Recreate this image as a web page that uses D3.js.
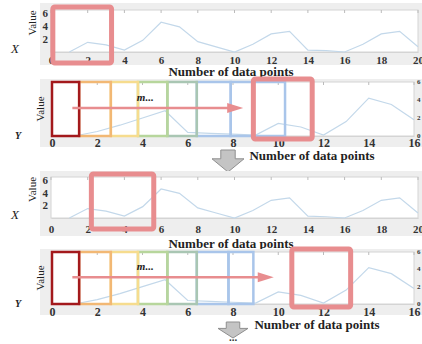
<!DOCTYPE html>
<html><head><meta charset="utf-8">
<script src="https://cdn.jsdelivr.net/npm/d3@7"></script>
<style>
html,body{margin:0;padding:0;background:#fff;}
svg{display:block;}
.tick text{font-family:"Liberation Serif","DejaVu Serif",serif;font-weight:bold;fill:#333;}
</style></head>
<body>
<svg id="c" width="422" height="344"></svg>
<script>
// ---- data ----
const xSteps = [1,2,3,4,5,6,7,8,9,10,11,12,13,14,15,16,17,18,19,20];
const xValues = [0,1.5,1.1,0.3,1.8,4.6,3.9,1.6,0.8,0,1.2,2.8,3.2,0.3,0.2,0,1.2,2.8,3.2,0.8];
const ySteps = [1,2,3,4,5,6,7,8,9,10,11,12,13,14,15,16];
const yValues = [0,0.5,1.2,2.0,2.8,0.4,0.3,0.2,0.1,1.4,1.0,0.1,1.6,4.2,3.5,1.8];
const xTicksX = [0,2,4,6,8,10,12,14,16,18,20];
const xTicksY = [0,2,4,6,8,10,12,14,16];
const valueTicks = [2,4,6];
const valueTicksRight = [0,2,4,6];
const windowEdgesA = [0,1.2,2.6,3.8,5.1,6.4,7.9,10.3];
const windowEdgesB = [0,1.2,2.6,3.8,5.1,6.4,7.8,8.9];
const windowColors = ["#a3191c","#f2b874","#f6dc8e","#b7d69c","#a9c6b3","#a9c5ea","#a9c5ea"];
const redWindowX1 = [0.1,3.3];
const redWindowX2 = [2.2,5.6];
const redWindowY1 = [8.9,11.5];
const redWindowY2 = [10.6,13.2];
const arrowY1 = [0.9,8.45,3.1];
const arrowY2 = [0.9,9.8,3.1];
const xLabel = "Number of data points";

const svg = d3.select("#c");
const serif = '"Liberation Serif","DejaVu Serif",serif';
const lineCol = "#c3d8ea";
const redCol = "#e88d8f";
const fmt = d3.format("d");

function panelX(top, bottom, bgTop, bgBot, redWin, name, tickPad, titleBase){
  const x = d3.scaleLinear().domain([0,20]).range([51,418]);
  const y = d3.scaleLinear().domain([0,6.5]).range([bottom, top]);
  const g = svg.append("g");
  g.append("rect").attr("x",40).attr("y",bgTop).attr("width",382).attr("height",bgBot-bgTop).attr("fill","#eeeeee");
  g.append("rect").attr("x",x(0)).attr("y",top).attr("width",x(20)-x(0)).attr("height",bottom-top)
    .attr("fill","#fff").attr("stroke","#d4d4d4").attr("stroke-width",1);
  g.selectAll(".tt").data(xTicksX).join("line").attr("x1",d=>x(d)).attr("x2",d=>x(d))
    .attr("y1",top).attr("y2",top+3).attr("stroke","#bbb");
  const ax = g.append("g").attr("transform",`translate(0,${bottom})`)
    .call(d3.axisBottom(x).tickValues(xTicksX).tickFormat(fmt).tickSize(0).tickPadding(tickPad));
  ax.select(".domain").attr("stroke","#d4d4d4");
  ax.selectAll("text").attr("font-size",11);
  const ay = g.append("g").attr("transform",`translate(${x(0)-1},0)`)
    .call(d3.axisLeft(y).tickValues(valueTicks).tickFormat(fmt).tickSize(0).tickPadding(2));
  ay.select(".domain").remove();
  ay.selectAll("text").attr("font-size",11);
  g.append("path").datum(xSteps.map((s,i)=>[s,xValues[i]]))
    .attr("d",d3.line().x(d=>x(d[0])).y(d=>y(d[1])))
    .attr("fill","none").attr("stroke",lineCol).attr("stroke-width",1.2);
  g.append("text").attr("transform",`translate(36,${(top+bottom)/2-8}) rotate(-90)`)
    .attr("text-anchor","middle").attr("font-family",serif).attr("font-size",11).attr("fill","#222").text("Value");
  g.append("text").attr("x",15).attr("y",bottom+1).attr("text-anchor","middle").attr("font-family",serif)
    .attr("font-style","italic").attr("font-size",13).attr("fill","#222").text(name);
  g.append("text").attr("x",231).attr("y",titleBase).attr("text-anchor","middle").attr("font-family",serif)
    .attr("font-weight","bold").attr("font-size",13).attr("fill","#222").text(xLabel);
  g.append("rect").attr("x",x(redWin[0])).attr("y",top-3).attr("width",x(redWin[1])-x(redWin[0]))
    .attr("height",bottom-top+14).attr("rx",2).attr("fill","none").attr("stroke",redCol).attr("stroke-width",5);
}

function panelY(top, bottom, bgTop, bgBot, edges, redWin, arrow, labelY, grayArrow, dots, tickPad){
  const x = d3.scaleLinear().domain([0,16]).range([52,414]);
  const y = d3.scaleLinear().domain([0,6]).range([bottom, top]);
  const g = svg.append("g");
  g.append("rect").attr("x",40).attr("y",bgTop).attr("width",382).attr("height",bgBot-bgTop).attr("fill","#eeeeee");
  g.append("rect").attr("x",x(0)).attr("y",top).attr("width",x(16)-x(0)).attr("height",bottom-top)
    .attr("fill","#fff").attr("stroke","#d4d4d4").attr("stroke-width",1);
  g.selectAll(".tt").data(xTicksY).join("line").attr("x1",d=>x(d)).attr("x2",d=>x(d))
    .attr("y1",top).attr("y2",top+3).attr("stroke","#bbb");
  const ax = g.append("g").attr("transform",`translate(0,${bottom})`)
    .call(d3.axisBottom(x).tickValues(xTicksY).tickFormat(fmt).tickSize(0).tickPadding(tickPad));
  ax.select(".domain").attr("stroke","#d4d4d4");
  ax.selectAll("text").attr("font-size",12);
  const ay = g.append("g").attr("transform",`translate(${x(16)},0)`)
    .call(d3.axisRight(y).tickValues(valueTicksRight).tickFormat(fmt).tickSize(0).tickPadding(3));
  ay.select(".domain").remove();
  ay.selectAll("text").attr("font-size",7).attr("dy","0.2em");
  g.append("path").datum(ySteps.map((s,i)=>[s,yValues[i]]))
    .attr("d",d3.line().x(d=>x(d[0])).y(d=>y(d[1])))
    .attr("fill","none").attr("stroke",lineCol).attr("stroke-width",1.2);
  for(let i=edges.length-2;i>=0;i--){
    g.append("rect").attr("x",x(edges[i])).attr("y",top).attr("width",x(edges[i+1])-x(edges[i]))
      .attr("height",bottom-top).attr("fill","none").attr("stroke",windowColors[i]).attr("stroke-width",2.5);
  }
  const ay0 = y(arrow[2]);
  g.append("line").attr("x1",x(arrow[0])).attr("x2",x(arrow[1])-14).attr("y1",ay0).attr("y2",ay0)
    .attr("stroke",redCol).attr("stroke-width",2.5);
  g.append("path").attr("d",`M${x(arrow[1])-16},${ay0-5}L${x(arrow[1])},${ay0}L${x(arrow[1])-16},${ay0+5}Z`).attr("fill",redCol);
  g.append("text").attr("x",x(3.75)).attr("y",y(3.9)).attr("font-family",serif).attr("font-style","italic")
    .attr("font-weight","bold").attr("font-size",11).attr("fill","#222").text("m...");
  g.append("text").attr("transform",`translate(44,${(top+bottom)/2}) rotate(-90)`)
    .attr("text-anchor","middle").attr("font-family",serif).attr("font-size",11).attr("fill","#222").text("Value");
  g.append("text").attr("x",18).attr("y",bottom+3).attr("text-anchor","middle").attr("font-family",serif)
    .attr("font-style","italic").attr("font-weight","bold").attr("font-size",10).attr("fill","#222").text("Y");
  g.append("text").attr("x",labelY[0]).attr("y",labelY[1]).attr("text-anchor","middle").attr("font-family",serif)
    .attr("font-weight","bold").attr("font-size",13).attr("fill","#222").text(xLabel);
  g.append("rect").attr("x",x(redWin[0])).attr("y",top-3).attr("width",x(redWin[1])-x(redWin[0]))
    .attr("height",bottom-top+6).attr("rx",2).attr("fill","none").attr("stroke",redCol).attr("stroke-width",5);
  const [gx,gy,gw,gh] = grayArrow;
  const sw = gw*0.45, sh = gh*0.4;
  g.append("path").attr("d",`M${gx+(gw-sw)/2},${gy}h${sw}v${sh}h${(gw-sw)/2}L${gx+gw/2},${gy+gh}L${gx},${gy+sh}h${(gw-sw)/2}Z`)
    .attr("fill","#c4c4c4").attr("stroke","#8f8f8f").attr("stroke-width",1);
  if(dots){
    g.append("text").attr("x",gx+gw/2).attr("y",gy+gh+3).attr("text-anchor","middle").attr("font-family",serif)
      .attr("font-weight","bold").attr("font-size",11).attr("fill","#333").text("...");
  }
}

panelX(10, 52, 3, 65, redWindowX1, "X", 4, 76);
panelY(82, 136, 79, 147, windowEdgesA, redWindowY1, arrowY1, [312,160], [212,150,32,22], false, 2);
panelX(177, 218, 171, 236, redWindowX2, "X", 7, 248);
panelY(252, 304, 249, 315, windowEdgesB, redWindowY2, arrowY2, [317,329], [218,322,30,16], true, 3);
</script>
</body></html>
